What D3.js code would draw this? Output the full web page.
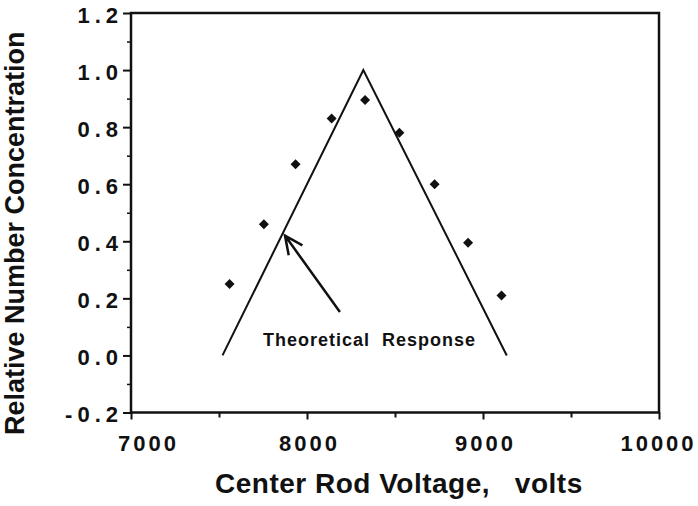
<!DOCTYPE html>
<html>
<head>
<meta charset="utf-8">
<script src="https://cdn.jsdelivr.net/npm/d3@7"></script>
<style>
	body { margin: 0; background: #fff; }
	text { font-family: "Liberation Sans", Arial, Helvetica, sans-serif; font-weight: bold; fill: #111; }
</style>
</head>
<body>
<script>
// Measured points
var voltage = [7560, 7755, 7935, 8140, 8330, 8525, 8725, 8915, 9105];
var concentration = [0.25, 0.46, 0.67, 0.83, 0.895, 0.78, 0.60, 0.395, 0.21];

// Theoretical response triangle
var theoryVoltage = [7520, 8320, 9135];
var theoryConc = [0.0, 1.0, 0.0];

// Arrow for the annotation (tail -> tip), in data units
var arrowVoltage = [8187, 7875];
var arrowConc = [0.152, 0.42];

var xTicks = [7000, 8000, 9000, 10000];
var xMinor = [7500, 8500, 9500];
var yTicks = [-0.2, 0.0, 0.2, 0.4, 0.6, 0.8, 1.0, 1.2];
var yMinor = [-0.1, 0.1, 0.3, 0.5, 0.7, 0.9, 1.1];

var margin = {top: 13, right: 39, bottom: 93.5, left: 131},
	width = 698 - margin.left - margin.right,
	height = 506 - margin.top - margin.bottom;

var x = d3.scaleLinear().domain([7000, 10000]).range([0, width]);
var y = d3.scaleLinear().domain([-0.2, 1.2]).range([height, 0]);

var svg = d3.select("body").append("svg")
		.attr("width", 698)
		.attr("height", 506)
	.append("g")
		.attr("transform", "translate(" + margin.left + "," + margin.top + ")");

// minor ticks
svg.append("g")
	.attr("transform", "translate(0," + height + ")")
	.call(d3.axisBottom(x).tickValues(xMinor).tickSize(5).tickFormat(""))
	.call(function(g) { g.select(".domain").remove(); })
	.selectAll("line").attr("stroke", "#111").attr("stroke-width", 2);

svg.append("g")
	.call(d3.axisLeft(y).tickValues(yMinor).tickSize(4).tickFormat(""))
	.call(function(g) { g.select(".domain").remove(); })
	.selectAll("line").attr("stroke", "#111").attr("stroke-width", 1.5);

// major ticks + labels
var xAxis = svg.append("g")
	.attr("transform", "translate(0," + height + ")")
	.call(d3.axisBottom(x).tickValues(xTicks).tickSize(7).tickFormat(function(d) { return d; }));
xAxis.select(".domain").remove();
xAxis.selectAll("line").attr("stroke", "#111").attr("stroke-width", 2);
xAxis.selectAll("text")
	.attr("y", 38.5)
	.attr("dy", 0)
	.attr("dx", function(d) { return d == 7000 ? 17 : (d == 10000 ? -1 : 2); })
	.style("font-size", "22px")
	.style("letter-spacing", "3px")
	.attr("fill", "#111");

var yAxis = svg.append("g")
	.call(d3.axisLeft(y).tickValues(yTicks).tickSize(8).tickFormat(function(d) { return d.toFixed(1); }));
yAxis.select(".domain").remove();
yAxis.selectAll("line").attr("stroke", "#111").attr("stroke-width", 2);
yAxis.selectAll("text")
	.attr("x", -8)
	.attr("dy", 9)
	.style("font-size", "22px")
	.style("letter-spacing", "5px")
	.attr("fill", "#111");

// frame
svg.append("rect")
	.attr("x", 0)
	.attr("y", 0)
	.attr("width", width)
	.attr("height", height)
	.attr("fill", "none")
	.attr("stroke", "#111")
	.attr("stroke-width", 2.5);

// theoretical response line
var line = d3.line()
	.x(function(d) { return x(d[0]); })
	.y(function(d) { return y(d[1]); });

svg.append("path")
	.datum(d3.zip(theoryVoltage, theoryConc))
	.attr("d", line)
	.attr("fill", "none")
	.attr("stroke", "#111")
	.attr("stroke-width", 2);

// data points as diamonds
svg.selectAll(".pt")
	.data(d3.zip(voltage, concentration))
	.enter().append("path")
	.attr("class", "pt")
	.attr("d", d3.symbol().type(d3.symbolSquare).size(50))
	.attr("transform", function(d) { return "translate(" + x(d[0]) + "," + y(d[1]) + ") rotate(45)"; })
	.attr("fill", "#111");

// annotation arrow
var tail = [x(arrowVoltage[0]), y(arrowConc[0])],
	tip = [x(arrowVoltage[1]), y(arrowConc[1])];
var ang = Math.atan2(tail[1] - tip[1], tail[0] - tip[0]);
var headLen = 20, spread = 25 * Math.PI / 180;
svg.append("path")
	.attr("d", "M" + tail + "L" + tip +
		"M" + [tip[0] + headLen * Math.cos(ang - spread), tip[1] + headLen * Math.sin(ang - spread)] +
		"L" + tip +
		"L" + [tip[0] + headLen * Math.cos(ang + spread), tip[1] + headLen * Math.sin(ang + spread)])
	.attr("fill", "none")
	.attr("stroke", "#111")
	.attr("stroke-width", 2.5);

svg.append("text")
	.attr("x", 132)
	.attr("y", 333)
	.attr("xml:space", "preserve")
	.style("white-space", "pre")
	.style("font-size", "18px")
	.style("letter-spacing", "1px")
	.text("Theoretical  Response");

// axis titles
svg.append("text")
	.attr("x", 84)
	.attr("y", 480)
	.style("white-space", "pre")
	.style("font-size", "28px")
	.style("letter-spacing", "0.5px")
	.text("Center Rod Voltage,   volts");

svg.append("text")
	.attr("transform", "rotate(-90)")
	.attr("x", -422)
	.attr("y", -107)
	.style("white-space", "pre")
	.style("font-size", "27px")
	.text("Relative Number Concentration");
</script>
</body>
</html>
